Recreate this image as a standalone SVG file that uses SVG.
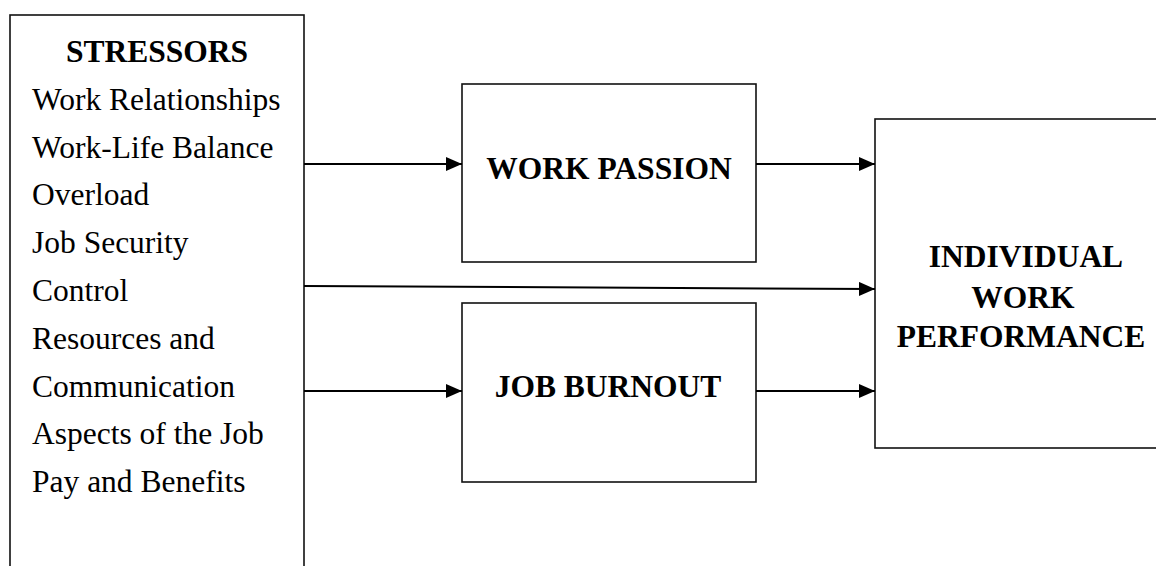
<svg xmlns="http://www.w3.org/2000/svg" width="1156" height="566" viewBox="0 0 1156 566">
<defs>
<marker id="ah" viewBox="0 0 16 14" refX="16" refY="7" markerWidth="16" markerHeight="14" markerUnits="userSpaceOnUse" orient="auto">
<path d="M0,0 L16,7 L0,14 Z" fill="#000"/>
</marker>
<style>
.box{fill:#fff;stroke:#111;stroke-width:1.6}
.t{font-family:"Liberation Serif","Times New Roman",serif;font-size:31.5px;fill:#000}
.b{font-weight:bold;text-anchor:middle}
.c{fill:none;stroke:#000;stroke-width:2}
</style>
</defs>
<rect width="1156" height="566" fill="#fff"/>
<g id="stressors">
<rect class="box" x="10" y="15" width="294" height="600"/>
<text class="t b" x="157" y="62">STRESSORS</text>
<text class="t" x="32" y="109.8">Work Relationships</text>
<text class="t" x="32" y="157.6">Work-Life Balance</text>
<text class="t" x="32" y="205.4">Overload</text>
<text class="t" x="32" y="253.2">Job Security</text>
<text class="t" x="32" y="301">Control</text>
<text class="t" x="32" y="348.8">Resources and</text>
<text class="t" x="32" y="396.6">Communication</text>
<text class="t" x="32" y="444.4">Aspects of the Job</text>
<text class="t" x="32" y="492.2">Pay and Benefits</text>
</g>
<g id="work-passion">
<rect class="box" x="462" y="84" width="294" height="178"/>
<text class="t b" x="609" y="179">WORK PASSION</text>
</g>
<g id="job-burnout">
<rect class="box" x="462" y="303" width="294" height="179"/>
<text class="t b" x="608" y="397">JOB BURNOUT</text>
</g>
<g id="performance">
<rect class="box" x="875" y="119" width="320" height="329"/>
<text class="t b" x="1026" y="267">INDIVIDUAL</text>
<text class="t b" x="1023" y="308">WORK</text>
<text class="t b" x="1021" y="347">PERFORMANCE</text>
</g>
<g id="connectors">
<line class="c" x1="304" y1="164" x2="462" y2="164" marker-end="url(#ah)"/>
<line class="c" x1="304" y1="286" x2="875" y2="289" marker-end="url(#ah)"/>
<line class="c" x1="304" y1="391" x2="462" y2="391" marker-end="url(#ah)"/>
<line class="c" x1="756" y1="164" x2="875" y2="164" marker-end="url(#ah)"/>
<line class="c" x1="756" y1="391" x2="875" y2="391" marker-end="url(#ah)"/>
</g>
</svg>
